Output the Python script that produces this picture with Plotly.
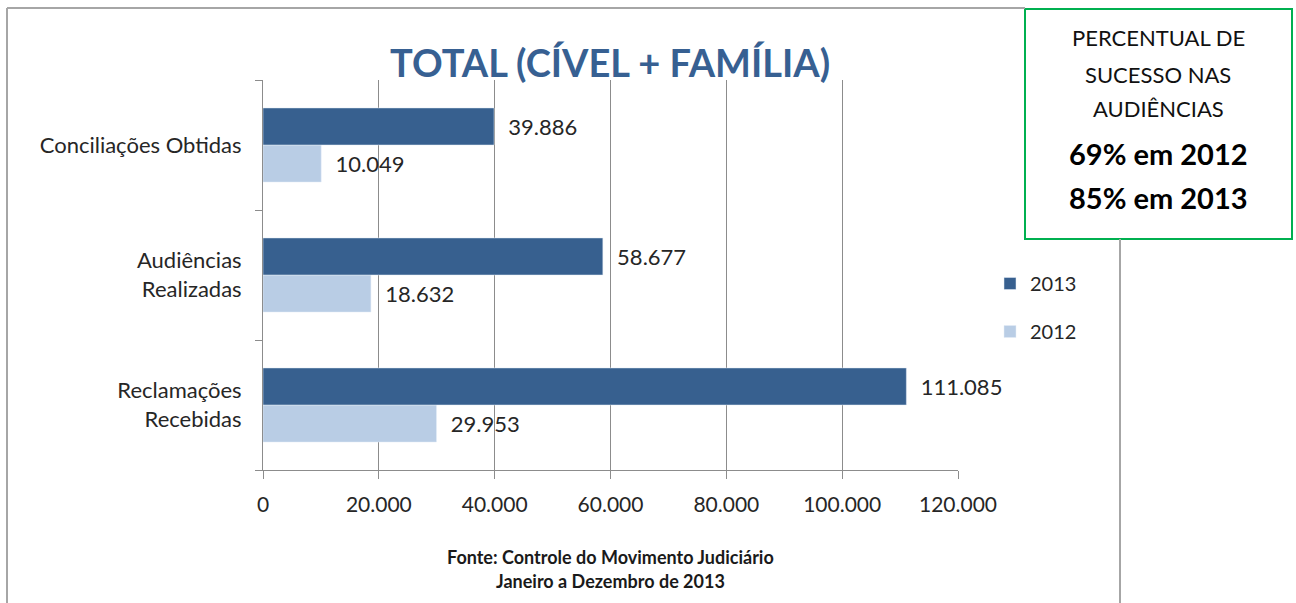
import plotly.graph_objects as go

# data
categorias = ["Reclamações<br>Recebidas", "Audiências<br>Realizadas", "Conciliações Obtidas"]
valores_2012 = [29953, 18632, 10049]
valores_2013 = [111085, 58677, 39886]
ticks_x = [0, 20000, 40000, 60000, 80000, 100000, 120000]

W, H = 1296, 603
ML, MR, MT, MB = 263, 338, 80, 133
PW, PH = W - ML - MR, H - MT - MB


def px_x(px):
    return (px - ML) / PW


def px_y(py):
    return (H - MB - py) / PH


def fmt(v):
    return f"{v:,}".replace(",", ".")


def label(text, x, y, size, color="#111", family=None):
    f = dict(size=size, color=color)
    if family:
        f["family"] = family
    return dict(text=text, xref="paper", yref="paper", x=px_x(x), y=px_y(y),
                xanchor="center", yanchor="middle", showarrow=False, font=f)


fig = go.Figure()
fig.add_trace(go.Bar(
    y=categorias, x=valores_2012, name="2012", orientation="h",
    marker_color="#B9CDE5", legendrank=2, legendgroup="g2012",
    text=["  " + fmt(v) for v in valores_2012], textposition="outside",
    textfont=dict(size=22, color="#262626"), constraintext="none", cliponaxis=False,
))
fig.add_trace(go.Bar(
    y=categorias, x=valores_2013, name="2013", orientation="h",
    marker_color="#37608F", legendrank=1, legendgroup="g2013",
    text=["  " + fmt(v) for v in valores_2013], textposition="outside",
    textfont=dict(size=22, color="#262626"), constraintext="none", cliponaxis=False,
))

fig.update_layout(
    width=W, height=H,
    margin=dict(l=ML, r=MR, t=MT, b=MB),
    paper_bgcolor="white", plot_bgcolor="white",
    font=dict(family="Lato, Open Sans, sans-serif", color="#262626", size=20),
    barmode="group", bargap=0.43, bargroupgap=0,
    separators=",.",
    showlegend=True,
    legend=dict(
        x=px_x(990), y=px_y(264), xanchor="left", yanchor="top",
        traceorder="grouped", tracegroupgap=19,
        font=dict(size=20, color="#262626"), bgcolor="rgba(0,0,0,0)",
    ),
    xaxis=dict(
        range=[0, 120000], tickvals=ticks_x, ticktext=[fmt(v) for v in ticks_x],
        showgrid=True, gridcolor="#8C8C8C", gridwidth=1,
        showline=True, linecolor="#8C8C8C", linewidth=1,
        ticks="outside", ticklen=8, tickcolor="#8C8C8C",
        ticklabelstandoff=8, zeroline=False,
        tickfont=dict(size=21, color="#262626"),
    ),
    yaxis=dict(
        showline=True, linecolor="#8C8C8C", linewidth=1,
        ticks="outside", ticklen=7, tickcolor="#8C8C8C", tickson="boundaries",
        ticklabelstandoff=16, showgrid=False,
        tickfont=dict(size=22, color="#262626"),
    ),
    annotations=[
        label("<b>TOTAL (CÍVEL + FAMÍLIA)</b>", 610, 62, 38, "#376092", "Lato, sans-serif"),
        label("<b>Fonte: Controle do Movimento Judiciário</b>", 610, 557, 18, "#1a1a1a"),
        label("<b>Janeiro a Dezembro de 2013</b>", 610, 581, 18, "#1a1a1a"),
        label("PERCENTUAL DE", 1158, 38, 22),
        label("SUCESSO NAS", 1158, 74, 22),
        label("AUDIÊNCIAS", 1158, 109, 22),
        label("<b>69% em 2012</b>", 1158, 153, 29, "#000"),
        label("<b>85% em 2013</b>", 1158, 197, 29, "#000"),
    ],
    shapes=[
        # chart frame
        dict(type="line", xref="paper", yref="paper", x0=px_x(7), x1=px_x(1025),
             y0=px_y(8), y1=px_y(8), line=dict(color="#A6A6A6", width=2)),
        dict(type="line", xref="paper", yref="paper", x0=px_x(7), x1=px_x(7),
             y0=px_y(8), y1=px_y(603), line=dict(color="#A6A6A6", width=2)),
        dict(type="line", xref="paper", yref="paper", x0=px_x(1120), x1=px_x(1120),
             y0=px_y(239), y1=px_y(603), line=dict(color="#A6A6A6", width=2)),
        # green box
        dict(type="rect", xref="paper", yref="paper", x0=px_x(1025), x1=px_x(1292),
             y0=px_y(9), y1=px_y(239), line=dict(color="#00B050", width=2),
             fillcolor="white", layer="below"),
    ],
)

fig.write_html("out.html", config={"displayModeBar": False},
               post_script="document.body.style.margin='0';")
